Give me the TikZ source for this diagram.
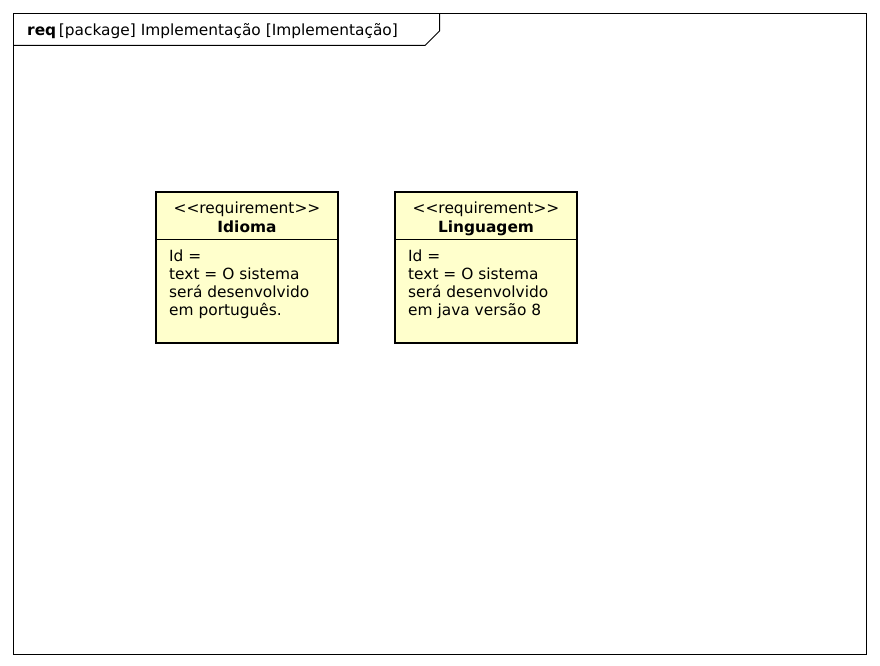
\documentclass[tikz,border=0pt]{standalone}
\usepackage{fontspec}
\setmainfont{DejaVu Sans}
\begin{document}
\begin{tikzpicture}[x=1pt,y=-1pt,
  frameline/.style={draw=black,line width=1pt},
  reqbox/.style={draw=black,line width=2pt,fill=reqfill},
  sepline/.style={draw=black,line width=1pt},
  txt/.style={font=\fontsize{15.4}{18}\selectfont,inner sep=0pt,anchor=base west},
  ctxt/.style={font=\fontsize{15.4}{18}\selectfont,inner sep=0pt,anchor=base},
]
\definecolor{reqfill}{HTML}{FFFFCC}
\useasboundingbox (0,0) rectangle (880,666);
\fill[white] (0,0) rectangle (880,666);
% frame
\draw[frameline] (13.5,13.5) rectangle (866.5,654.5);
\draw[frameline] (13.5,45.5) -- (425,45.5) -- (439.5,31) -- (439.5,13.5);
\node[txt] (title) at (27,36) {\textbf{req}\,[package] Implementação [Implementação]};
% Idioma
\draw[reqbox] (156,192) rectangle (338,343);
\draw[sepline] (156,239.5) -- (338,239.5);
\node[ctxt] (s1) at (247,213) {{<}{<}requirement{>}{>}};
\node[ctxt] (n1) at (247,232) {\textbf{Idioma}};
\node[txt] (a1) at (169,261) {Id =};
\node[txt] (b1) at (169,279) {text = O sistema};
\node[txt] (c1) at (169,297) {será desenvolvido};
\node[txt] (d1) at (169,315) {em português.};
% Linguagem
\draw[reqbox] (395,192) rectangle (577,343);
\draw[sepline] (395,239.5) -- (577,239.5);
\node[ctxt] (s2) at (486,213) {{<}{<}requirement{>}{>}};
\node[ctxt] (n2) at (486,232) {\textbf{Linguagem}};
\node[txt] (a2) at (408,261) {Id =};
\node[txt] (b2) at (408,279) {text = O sistema};
\node[txt] (c2) at (408,297) {será desenvolvido};
\node[txt] (d2) at (408,315) {em java versão 8};
\end{tikzpicture}
\end{document}
